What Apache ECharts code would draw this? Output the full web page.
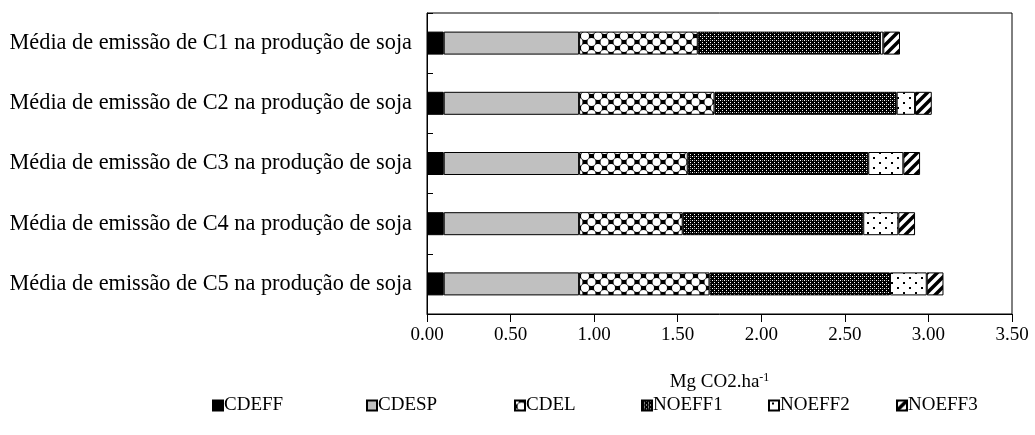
<!DOCTYPE html>
<html>
<head>
<meta charset="utf-8">
<script src="https://cdn.jsdelivr.net/npm/echarts@6/dist/echarts.min.js"></script>
<style>
	html, body { margin: 0; padding: 0; background: #fff; }
	#chart { width: 1035px; height: 435px; }
</style>
</head>
<body>
<div id="chart"></div>
<script>
	//categorias e valores (Mg CO2.ha-1)
	var categories = [
		"Média de emissão de C1 na produção de soja",
		"Média de emissão de C2 na produção de soja",
		"Média de emissão de C3 na produção de soja",
		"Média de emissão de C4 na produção de soja",
		"Média de emissão de C5 na produção de soja"
	];
	var seriesNames = ["CDEFF", "CDESP", "CDEL", "NOEFF1", "NOEFF2", "NOEFF3"];
	var cdeff = [0.10, 0.10, 0.10, 0.10, 0.10];
	var cdesp = [0.81, 0.81, 0.81, 0.81, 0.81];
	var cdel = [0.71, 0.81, 0.65, 0.62, 0.78];
	var noeff1 = [1.09, 1.09, 1.08, 1.08, 1.08];
	var noeff2 = [0.02, 0.11, 0.21, 0.21, 0.22];
	var noeff3 = [0.10, 0.10, 0.10, 0.10, 0.10];
	var xTicks = [0, 0.5, 1, 1.5, 2, 2.5, 3, 3.5];

	var FONT = "Liberation Serif";

	//texturas de preenchimento
	function tile(w, h, draw) {
		var c = document.createElement("canvas");
		c.width = w;
		c.height = h;
		var ctx = c.getContext("2d");
		draw(ctx, w, h);
		return { image: c, repeat: "repeat" };
	}

	var fills = [
		"#000000",
		"#c0c0c0",
		tile(13, 12, function(ctx, w, h) {
			ctx.fillStyle = "#000";
			ctx.fillRect(0, 0, w, h);
			ctx.fillStyle = "#fff";
			[[0, 0], [w, 0], [0, h], [w, h], [w / 2, h / 2]].forEach(p => {
				ctx.beginPath();
				ctx.arc(p[0], p[1], 4.0, 0, Math.PI * 2);
				ctx.fill();
			});
		}),
		tile(4, 4, function(ctx, w, h) {
			ctx.fillStyle = "#000";
			ctx.fillRect(0, 0, w, h);
			ctx.fillStyle = "#fff";
			ctx.fillRect(0, 0, 1, 1);
			ctx.fillRect(2, 2, 1, 1);
			ctx.fillStyle = "#888";
			ctx.fillRect(2, 0, 1, 1);
		}),
		tile(12, 10, function(ctx, w, h) {
			ctx.fillStyle = "#fff";
			ctx.fillRect(0, 0, w, h);
			ctx.fillStyle = "#000";
			ctx.fillRect(3, 2, 2, 2);
			ctx.fillRect(9, 7, 2, 2);
		}),
		tile(10, 10, function(ctx, w, h) {
			ctx.fillStyle = "#fff";
			ctx.fillRect(0, 0, w, h);
			ctx.strokeStyle = "#000";
			ctx.lineWidth = 3.5;
			ctx.beginPath();
			ctx.moveTo(-2, h + 2); ctx.lineTo(w + 2, -2);
			ctx.moveTo(-2, 2); ctx.lineTo(2, -2);
			ctx.moveTo(w - 2, h + 2); ctx.lineTo(w + 2, h - 2);
			ctx.stroke();
		})
	];

	var values = [cdeff, cdesp, cdel, noeff1, noeff2, noeff3];
	var legendLeft = [212, 366, 514, 641, 768, 896];

	var chart = echarts.init(document.getElementById("chart"));

	var option = {
		animation: false,
		backgroundColor: "#fff",
		textStyle: { fontFamily: FONT, color: "#000" },
		grid: {
			left: 427, right: 23, top: 13, bottom: 121,
			show: true, borderColor: "#000", borderWidth: 1
		},
		legend: seriesNames.map((name, i) => ({
			data: [name],
			left: legendLeft[i],
			top: 396,
			icon: "rect",
			itemWidth: 10,
			itemHeight: 10,
			itemGap: 0,
			padding: 0,
			selectedMode: false,
			textStyle: { fontFamily: FONT, fontSize: 19, color: "#000", padding: [0, 0, 0, -4] }
		})),
		xAxis: {
			type: "value",
			min: 0,
			max: 3.5,
			interval: 0.5,
			name: "{a|Mg CO2.ha}{s|-1}",
			nameLocation: "middle",
			nameGap: 58,
			nameTextStyle: {
				rich: {
					a: { fontFamily: FONT, fontSize: 19, color: "#000" },
					s: { fontFamily: FONT, fontSize: 12, color: "#000", verticalAlign: "top", padding: [0, 0, 8, 0] }
				}
			},
			axisLine: { show: true, lineStyle: { color: "#000", width: 1 } },
			axisTick: { show: true, length: 8, lineStyle: { color: "#000" } },
			splitLine: { show: false },
			axisLabel: {
				fontFamily: FONT, fontSize: 19, color: "#000", margin: 12,
				formatter: v => v.toFixed(2)
			}
		},
		yAxis: {
			type: "category",
			inverse: true,
			data: categories,
			axisLine: { show: true, lineStyle: { color: "#000", width: 1 } },
			axisTick: { show: true, inside: true, length: 6, lineStyle: { color: "#000" } },
			axisLabel: { fontFamily: FONT, fontSize: 22.3, color: "#000", margin: 15 }
		},
		series: seriesNames.map((name, i) => ({
			name: name,
			type: "bar",
			stack: "total",
			barWidth: 23,
			data: values[i],
			itemStyle: { color: fills[i], borderColor: "#000", borderWidth: 1 }
		}))
	};

	chart.setOption(option);
</script>
</body>
</html>
